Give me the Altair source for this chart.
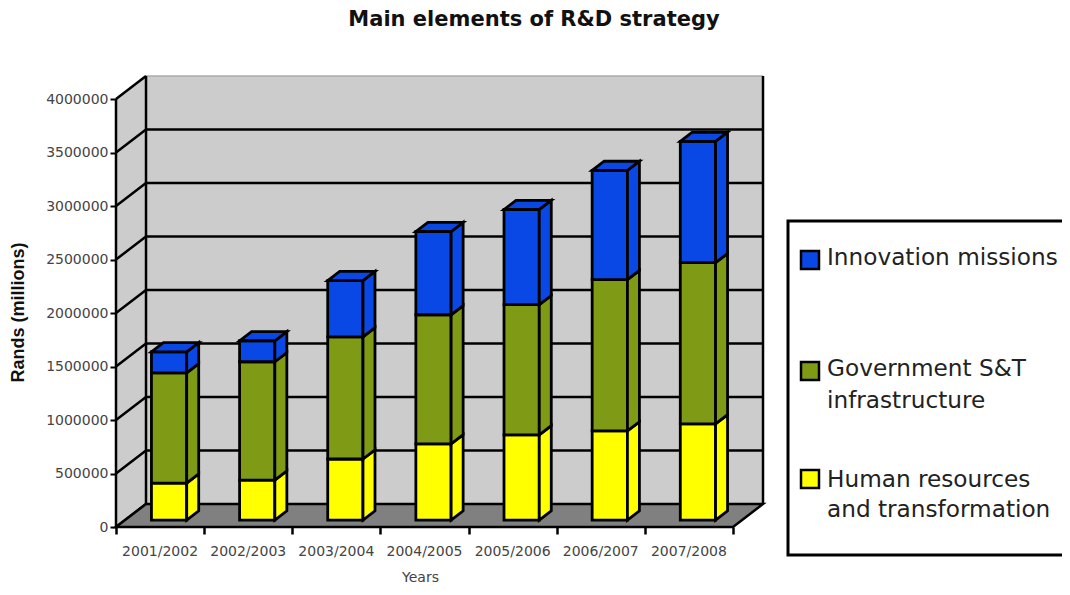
import altair as alt
import pandas as pd

years = ["2001/2002", "2002/2003", "2003/2004", "2004/2005", "2005/2006", "2006/2007", "2007/2008"]
human = [346000, 374000, 571000, 712000, 796000, 833000, 899000]
govt = [1030000, 1106000, 1142000, 1207000, 1217000, 1414000, 1507000]
innov = [197000, 196000, 525000, 778000, 890000, 1021000, 1133000]
y_ticks = [0, 500000, 1000000, 1500000, 2000000, 2500000, 3000000, 3500000, 4000000]

YELLOW, OLIVE, BLUE = "#ffff00", "#7f9a14", "#0a48e6"
WALL, FLOOR = "#cccccc", "#808080"
DX, DY = 30 / 88.1, 215000
X_MAX, Y_MAX = 4000000, 4215000
F0, F1 = 0.3, 0.7
HALF = 0.2
W, H = 647, 451

xs = alt.Scale(domain=[0, 7 + DX], nice=False, zero=False)
ys = alt.Scale(domain=[0, Y_MAX], nice=False, zero=False)

x_axis = alt.Axis(
    values=list(range(8)), labels=False, domain=False, grid=False, tickColor="black",
    tickWidth=2.5, tickSize=7, title="Years", titleFont="DejaVu Sans", titleFontSize=14,
    titleFontWeight="normal", titleColor="#444444", titleX=304, titleY=50, titleBaseline="middle",
)
y_axis = alt.Axis(
    values=y_ticks, format="d", domain=False, grid=False, tickColor="black", tickWidth=2, tickSize=6,
    labelFont="DejaVu Sans", labelFontSize=14, labelColor="#444444", labelPadding=2,
    title="Rands (millions)", titleFont="Liberation Sans", titleFontSize=18, titleFontWeight="bold",
    titleColor="#111111", titleX=-98, titleY=236, titleBaseline="middle",
)
X = lambda f: alt.X(f, scale=xs, axis=x_axis)
Y = lambda f, **k: alt.Y(f, scale=ys, axis=y_axis, **k)


def quad(rows, pid, fill, pts):
    for x, y, y2 in pts:
        rows.append(dict(id=pid, fill=fill, x=x, y=y, y2=y2))


bars = []
pid = 0
for i in range(len(years)):
    x0 = i + 0.5 + F0 * DX - HALF
    x1 = i + 0.5 + F0 * DX + HALF
    d = (F1 - F0) * DX
    e = (F1 - F0) * DY
    low = F0 * DY
    for val, col in ((human[i], YELLOW), (govt[i], OLIVE), (innov[i], BLUE)):
        hi = low + val
        quad(bars, pid, col, [(x0, low, hi), (x1, low, hi)])
        pid += 1
        quad(bars, pid, col, [(x1, low, hi), (x1 + d, low + e, hi + e)])
        pid += 1
        low = hi
    quad(bars, pid, BLUE, [(x0, low, low), (x0 + d, low, low + e), (x1, low, low + e), (x1 + d, low + e, low + e)])
    pid += 1
bars = pd.DataFrame(bars)

walls = []
quad(walls, 0, WALL, [(DX, DY, X_MAX + DY), (7 + DX, DY, X_MAX + DY)])
quad(walls, 1, WALL, [(0, 0, X_MAX), (DX, DY, X_MAX + DY)])
walls = pd.DataFrame(walls)

floor = []
quad(floor, 0, FLOOR, [(0, 0, 0), (DX, 0, DY), (7, 0, DY), (7 + DX, DY, DY)])
floor = pd.DataFrame(floor)

grid = []
for n, v in enumerate(y_ticks):
    grid += [dict(id=n, x=0, y=v), dict(id=n, x=DX, y=v + DY)]
    if 0 < v < X_MAX:
        grid.append(dict(id=n, x=7 + DX, y=v + DY))
grid = pd.DataFrame(grid)

verts = pd.DataFrame([
    dict(id=0, x=0, y=0), dict(id=0, x=0, y=X_MAX),
    dict(id=1, x=DX, y=DY), dict(id=1, x=DX, y=X_MAX + DY),
    dict(id=2, x=7 + DX, y=DY), dict(id=2, x=7 + DX, y=X_MAX + DY),
])
top_edge = pd.DataFrame([dict(id=0, x=DX, y=X_MAX + DY), dict(id=0, x=7 + DX, y=X_MAX + DY)])


def polys(df, **kw):
    return alt.Chart(df).mark_area(interpolate="linear", **kw).encode(
        x=X("x:Q"),
        y=Y("y:Q", stack=None),
        y2="y2:Q",
        detail="id:N",
        fill=alt.Fill("fill:N", scale=None),
    )


def lines(df, color="black", width=2.5):
    return alt.Chart(df).mark_line(color=color, strokeWidth=width, interpolate="linear").encode(
        x=X("x:Q"),
        y=Y("y:Q"),
        detail="id:N",
        order=alt.Order("row:Q"),
    ).transform_window(row="row_number()")


cats = alt.Chart(pd.DataFrame({"year": years, "pos": [i + 0.5 for i in range(7)], "zero": [0] * 7})).mark_text(
    font="DejaVu Sans", fontSize=14, color="#444444", dy=25
).encode(
    x=X("pos:Q"),
    y=Y("zero:Q"),
    text="year:N",
)


def box(x0, x1, y0, y1, fill, sw=2.5):
    return alt.Chart(alt.Data(values=[{}])).mark_rect(fill=fill, stroke="black", strokeWidth=sw).encode(
        x=alt.value(x0 - 116), x2=alt.value(x1 - 116), y=alt.value(y0 - 76), y2=alt.value(y1 - 76)
    )


def label(text, x, y):
    return alt.Chart(pd.DataFrame({"t": [text]})).mark_text(
        font="DejaVu Sans", fontSize=23.2, color="#222222", align="left", baseline="middle"
    ).encode(x=alt.value(x - 116), y=alt.value(y - 76), text="t:N")


heading = alt.Chart(pd.DataFrame({"t": ["Main elements of R&D strategy"]})).mark_text(
    font="DejaVu Sans", fontSize=21, fontWeight="bold", color="#111111", align="center", baseline="middle"
).encode(x=alt.value(534 - 116), y=alt.value(20 - 76), text="t:N")

legend = [
    box(788, 1085, 221, 555, "white", 3),
    box(801, 819, 251, 269, BLUE),
    box(801, 819, 362, 380, OLIVE),
    box(801, 819, 470, 488, YELLOW),
    label("Innovation missions", 827, 258),
    label("Government S&T", 827, 369),
    label("infrastructure", 827, 401),
    label("Human resources", 827, 480),
    label("and transformation", 827, 510),
]

chart = alt.layer(
    polys(walls),
    lines(top_edge, "#aaaaaa", 1.5),
    lines(grid),
    polys(floor, stroke="black", strokeWidth=2.5),
    lines(verts),
    polys(bars, stroke="black", strokeWidth=2.8, strokeJoin="miter"),
    cats,
    heading,
    *legend,
).properties(
    width=W,
    height=H,
    padding={"left": 108, "top": 68, "right": 299, "bottom": 57},
    autosize=alt.AutoSizeParams(type="none"),
).configure_view(stroke=None)

chart.save("out.html", embed_options={"renderer": "svg", "actions": False})
